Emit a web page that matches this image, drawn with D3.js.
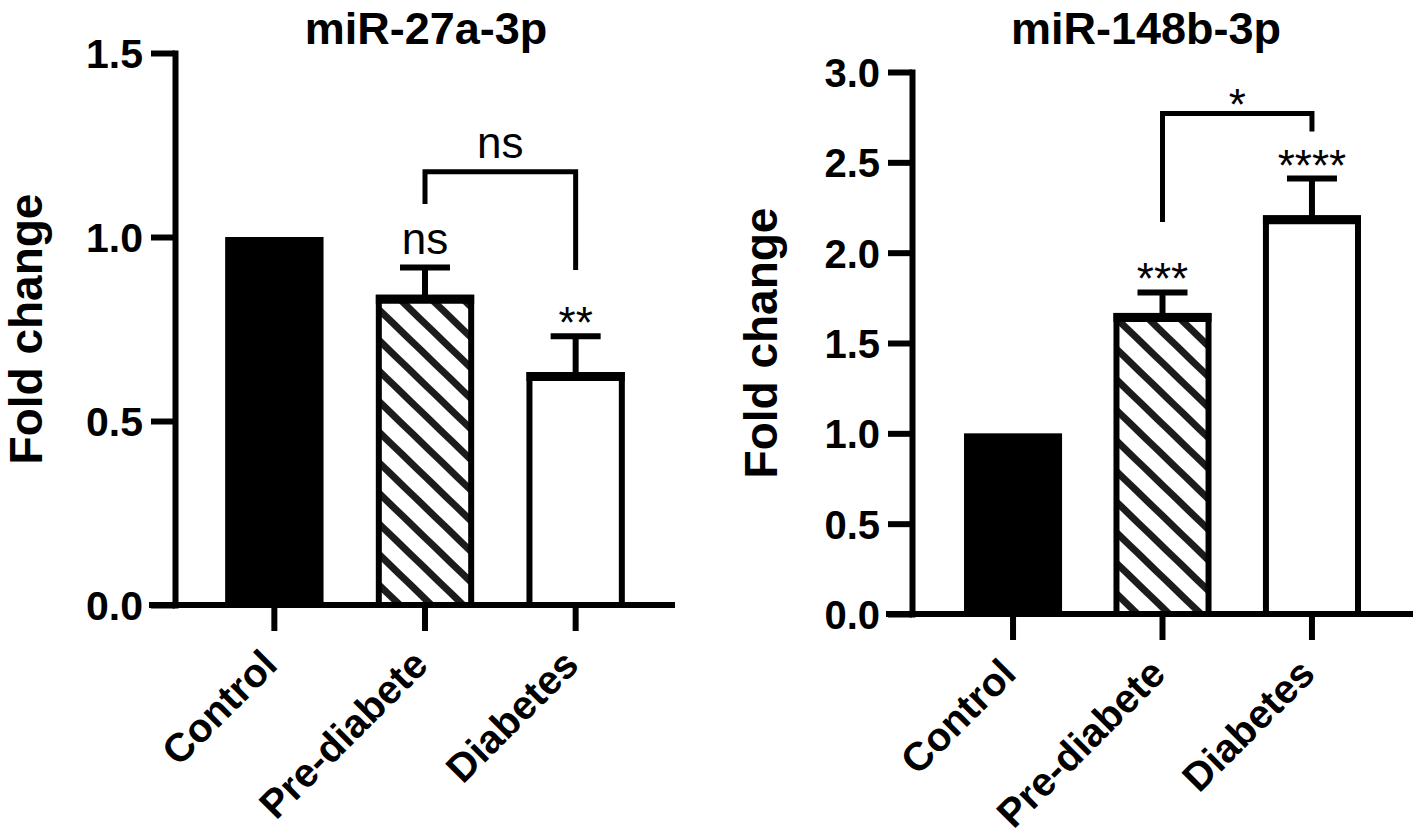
<!DOCTYPE html>
<html>
<head>
<meta charset="utf-8">
<script src="https://cdn.jsdelivr.net/npm/d3@7"></script>
<style>
html,body{margin:0;padding:0;background:#fff;}
svg{display:block;}
text{font-family:"Liberation Sans",Arial,Helvetica,sans-serif;fill:#000;}
</style>
</head>
<body>
<script>
// ---------------- DATA ----------------
const categories = ["Control", "Pre-diabete", "Diabetes"];

const mir27Title = "miR-27a-3p";
const mir27Values = [1.0, 0.835, 0.625];
const mir27Errors = [0, 0.082, 0.105];
const mir27Ticks = [0, 0.5, 1.0, 1.5];
const mir27Stars = ["", "ns", "**"];
// bracket: [fromIndex, toIndex, barY, leftLegEnd, rightLegEnd, label]
const mir27Bracket = [1, 2, 1.177, 1.09, 0.91, "ns"];

const mir148Title = "miR-148b-3p";
const mir148Values = [1.0, 1.65, 2.19];
const mir148Errors = [0, 0.13, 0.22];
const mir148Ticks = [0, 0.5, 1.0, 1.5, 2.0, 2.5, 3.0];
const mir148Stars = ["", "***", "****"];
const mir148Bracket = [1, 2, 2.77, 2.17, 2.67, "*"];

const yLabel = "Fold change";
const fills = ["solid", "hatch", "open"];

// ---------------- LAYOUT ----------------
const W = 1416, H = 839;
const svg = d3.select("body").append("svg").attr("width", W).attr("height", H);
svg.append("rect").attr("width", W).attr("height", H).attr("fill", "#fff");

const defs = svg.append("defs");
const pat = defs.append("pattern")
  .attr("id", "hatch").attr("patternUnits", "userSpaceOnUse")
  .attr("width", 22).attr("height", 22)
  .attr("patternTransform", "rotate(44)");
pat.append("rect").attr("width", 22).attr("height", 22).attr("fill", "#fff");
pat.append("rect").attr("width", 22).attr("height", 7).attr("fill", "#1c1c1c");

const SW = 6;

function panel(cfg) {
  const g = svg.append("g");
  const y = d3.scaleLinear().domain([0, cfg.ymax]).range([cfg.y0, cfg.y1]);
  const x = d3.scaleBand().domain(categories)
    .range([cfg.axisX, cfg.xEnd]).paddingInner(cfg.pi).paddingOuter(cfg.po);
  const bw = x.bandwidth();

  // bars
  categories.forEach((c, i) => {
    const v = cfg.values[i];
    const x0 = x(c);
    if (fills[i] === "solid") {
      g.append("rect").attr("x", x0).attr("y", y(v))
        .attr("width", bw).attr("height", y(0) - y(v)).attr("fill", "#000");
    } else {
      g.append("rect").attr("x", x0 + SW / 2).attr("y", y(v))
        .attr("width", bw - SW).attr("height", y(0) - y(v))
        .attr("fill", fills[i] === "hatch" ? "url(#hatch)" : "#fff")
        .attr("stroke", "#000").attr("stroke-width", SW);
      g.append("line").attr("x1", x0).attr("x2", x0 + bw)
        .attr("y1", y(v) + 1.5).attr("y2", y(v) + 1.5)
        .attr("stroke", "#000").attr("stroke-width", 9);
    }
    // error bar (upper only)
    const e = cfg.errors[i];
    if (e > 0) {
      const cx = x0 + bw / 2;
      g.append("line").attr("x1", cx).attr("x2", cx)
        .attr("y1", y(v)).attr("y2", y(v + e))
        .attr("stroke", "#000").attr("stroke-width", SW);
      g.append("line").attr("x1", cx - 25).attr("x2", cx + 25)
        .attr("y1", y(v + e)).attr("y2", y(v + e))
        .attr("stroke", "#000").attr("stroke-width", SW);
    }
    // significance labels
    if (cfg.stars[i]) {
      const isNs = cfg.stars[i] === "ns";
      g.append("text").attr("x", x0 + bw / 2)
        .attr("y", y(v + e) - (isNs ? 14 : -2))
        .attr("text-anchor", "middle").attr("font-size", 44)
        .text(cfg.stars[i]);
    }
  });

  // Y axis
  const ya = d3.axisLeft(y).tickValues(cfg.ticks).tickFormat(d3.format(".1f"))
    .tickSize(24).tickSizeOuter(0).tickPadding(8);
  const yg = g.append("g").attr("transform", `translate(${cfg.axisX},0)`).call(ya);
  yg.select(".domain").attr("stroke", "#000").attr("stroke-width", SW)
    .attr("stroke-linecap", "square");
  yg.selectAll(".tick line").attr("stroke", "#000").attr("stroke-width", SW);
  yg.selectAll(".tick text").attr("font-size", cfg.tickFont).attr("font-weight", "bold")
    .attr("fill", "#000").attr("font-family", '"Liberation Sans",Arial,sans-serif')
    .attr("dy", "0.36em");

  // X axis baseline
  g.append("line").attr("x1", cfg.axisX - 26).attr("x2", cfg.xEnd)
    .attr("y1", y(0)).attr("y2", y(0))
    .attr("stroke", "#000").attr("stroke-width", SW);
  const xa = d3.axisBottom(x).tickSize(26).tickSizeOuter(0).tickFormat("");
  const xg = g.append("g").attr("transform", `translate(0,${y(0)})`).call(xa);
  xg.select(".domain").remove();
  xg.selectAll(".tick line").attr("stroke", "#000").attr("stroke-width", SW);
  categories.forEach(c => {
    const cx = x(c) + bw / 2;
    g.append("text")
      .attr("transform", `translate(${cx + 5},${y(0) + 62}) rotate(-45)`)
      .attr("text-anchor", "end").attr("font-size", 40).attr("font-weight", "bold")
      .text(c);
  });

  // bracket
  const [a, b, by, la, ra, lab] = cfg.bracket;
  const xa1 = x(categories[a]) + bw / 2, xb1 = x(categories[b]) + bw / 2;
  g.append("path")
    .attr("d", `M${xa1},${y(la)}V${y(by)}H${xb1}V${y(ra)}`)
    .attr("fill", "none").attr("stroke", "#000").attr("stroke-width", 5);
  g.append("text").attr("x", (xa1 + xb1) / 2)
    .attr("y", y(by) - (lab === "ns" ? 14 : -6))
    .attr("text-anchor", "middle").attr("font-size", 44).text(lab);

  // title
  g.append("text").attr("x", cfg.titleX).attr("y", cfg.titleY)
    .attr("text-anchor", "middle").attr("font-size", 45).attr("font-weight", "bold")
    .text(cfg.title);

  // y label
  g.append("text")
    .attr("transform", `translate(${cfg.labelX},${(cfg.y0 + cfg.y1) / 2}) rotate(-90)`)
    .attr("text-anchor", "middle").attr("font-size", 46).attr("font-weight", "bold")
    .text(yLabel);
}

panel({
  title: mir27Title, values: mir27Values, errors: mir27Errors, ticks: mir27Ticks,
  stars: mir27Stars, bracket: mir27Bracket,
  ymax: 1.5, y0: 605, y1: 53, axisX: 175, xEnd: 675, pi: 0.347, po: 0.333,
  tickFont: 41, titleX: 426, titleY: 44, labelX: 42
});
panel({
  title: mir148Title, values: mir148Values, errors: mir148Errors, ticks: mir148Ticks,
  stars: mir148Stars, bracket: mir148Bracket,
  ymax: 3.0, y0: 614, y1: 72, axisX: 912, xEnd: 1413, pi: 0.344, po: 0.348,
  tickFont: 40, titleX: 1146, titleY: 44, labelX: 777
});
</script>
</body>
</html>
